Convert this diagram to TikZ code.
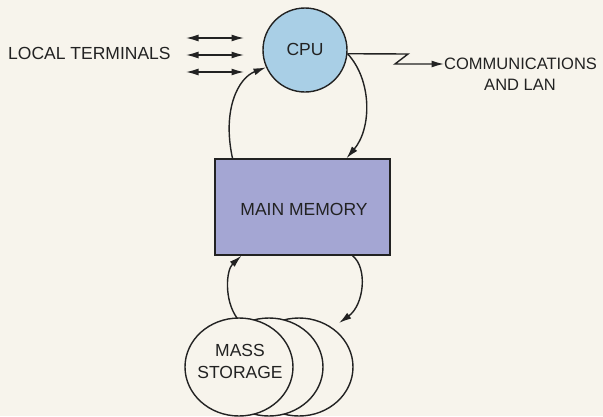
\documentclass[tikz,border=0pt]{standalone}
\usepackage{fontspec}
\setmainfont{Liberation Sans}
\usetikzlibrary{arrows.meta,calc}
\definecolor{bg}{HTML}{F7F4EC}
\definecolor{cpublue}{HTML}{A9CFE6}
\definecolor{memblue}{HTML}{A4A6D3}
\definecolor{ink}{HTML}{222222}
\tikzset{
  lbl/.style={font=\fontsize{17.5}{22}\selectfont, text=ink, align=center, inner sep=0pt},
  smalllbl/.style={lbl, font=\fontsize{16.5}{21}\selectfont},
  conn/.style={draw=ink, line width=1.4pt},
  tip/.style={-{Latex[length=12.5pt,width=7pt]}},
  dtip/.style={{Latex[length=12.5pt,width=7pt]}-{Latex[length=12.5pt,width=7pt]}},
}
\begin{document}
\begin{tikzpicture}[x=1pt,y=-1pt]
\fill[bg] (0,0) rectangle (603,416);
\useasboundingbox (0,0) rectangle (603,416);

% CPU
\node[circle, draw=ink, line width=1.4pt, fill=cpublue, minimum size=84pt, inner sep=0pt] (cpu) at (305,50) {};
\node[lbl] (cputxt) at (305,49) {CPU};

% Main memory
\node[rectangle, draw=ink, line width=1.4pt, fill=memblue, minimum width=175pt, minimum height=96pt, inner sep=0pt] (mem) at (302.5,207) {};
\node[lbl] (memtxt) at (304,209) {MAIN MEMORY};

% Mass storage
\begin{scope}
\clip (0,0) rectangle (603,416);
\draw[conn, fill=bg] (299,367) ellipse [x radius=54, y radius=49];
\draw[conn, fill=bg] (269,367) ellipse [x radius=54, y radius=49];
\draw[conn, fill=bg] (239,367) ellipse [x radius=54, y radius=49];
\end{scope}
\node[lbl] (mass) at (240,361) {MASS\\STORAGE};

% Local terminals
\node[lbl, anchor=west] (local) at (8,53) {LOCAL TERMINALS};
\coordinate (t1a) at (186,38); \coordinate (t1b) at (244,38);
\coordinate (t2a) at (186,55); \coordinate (t2b) at (244,55);
\coordinate (t3a) at (186,72); \coordinate (t3b) at (244,72);
\draw[conn, dtip] (t1a) -- (t1b);
\draw[conn, dtip] (t2a) -- (t2b);
\draw[conn, dtip] (t3a) -- (t3b);

% Communications
\node[smalllbl, anchor=west] (comm) at (444,64) {COMMUNICATIONS};
\node[smalllbl] (lan) at (520,85) {AND LAN};
\draw[conn, tip] (cpu.-5) -- (408,54) -- (395,64) -- (comm.west);

% CPU <-> memory
\coordinate (m1) at ($(mem.north)+(44,0)$);
\coordinate (m2) at ($(mem.north)+(-70,0)$);
\draw[conn, tip] (cpu.-5) .. controls (372,80) and (372,128) .. (m1);
\draw[conn, tip] (m2) .. controls (222,110) and (238,78) .. (cpu.204);

% memory <-> mass storage
\coordinate (m3) at ($(mem.south)+(50,0)$);
\coordinate (m4) at ($(mem.south)+(-61,0)$);
\coordinate (s1) at (339,323);
\coordinate (s2) at (237,318);
\draw[conn, tip] (m3) .. controls (368,268) and (364,305) .. (s1);
\draw[conn, tip] (s2) .. controls (224,300) and (226,270) .. (m4);
\end{tikzpicture}
\end{document}
